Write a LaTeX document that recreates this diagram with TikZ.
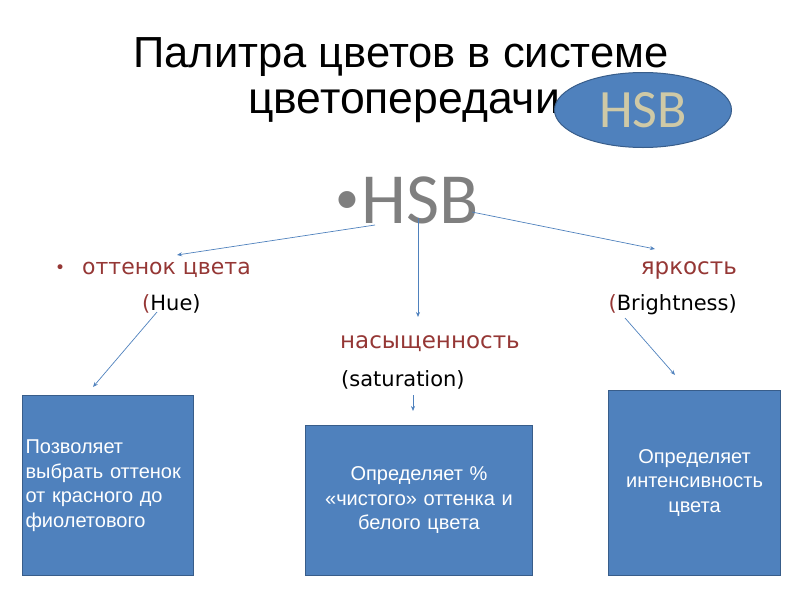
\documentclass[tikz,border=0pt]{standalone}
\usepackage{fontspec}
\setmainfont{Liberation Sans}
\newfontfamily\calfont{Carlito}
\newfontfamily\dvfont{DejaVu Sans}
\usetikzlibrary{arrows.meta,shapes.geometric}
\definecolor{boxblue}{HTML}{4F81BD}
\definecolor{boxline}{HTML}{385D8A}
\definecolor{termred}{HTML}{953735}
\definecolor{hsbgray}{HTML}{7F7F7F}
\definecolor{hsbtan}{HTML}{CFC9A6}
\tikzset{
  infobox/.style={draw=boxline, line width=1pt, fill=boxblue, text=white, inner sep=3pt, font=\fontsize{20}{24.5}\selectfont},
  term/.style={text=termred, font=\dvfont\fontsize{23}{26}\selectfont, inner sep=0pt},
  engl/.style={font=\dvfont\fontsize{21}{24}\selectfont, inner sep=0pt},
  link/.style={draw=boxblue, line width=0.7pt, -{Stealth[length=5pt,width=4pt]}}
}
\begin{document}
\begin{tikzpicture}[x=1pt,y=-1pt]
		\useasboundingbox (0,0) rectangle (800,600);
		% заголовок
		\node[anchor=base, inner sep=0pt, font=\fontsize{43.5}{50}\selectfont] (title1) at (401,67) {Палитра цветов в системе};
		\node[anchor=base west, inner sep=0pt, font=\fontsize{44.5}{50}\selectfont] (title2) at (248,113) {цветопередачи};
		\node[ellipse, draw=boxline, line width=1pt, fill=boxblue, minimum width=177, minimum height=75, text=hsbtan, font=\calfont\fontsize{54}{58}\selectfont] (oval) at (643,110) {HSB};
		
		\node[anchor=base east, inner sep=0pt, text=hsbgray, font=\calfont\fontsize{48}{54}\selectfont] (bull) at (360,213) {•};
		\node[anchor=base west, inner sep=0pt, text=hsbgray, font=\calfont\fontsize{72}{80}\selectfont] (hsb) at (361,223) {HSB};
		
		\node[anchor=base west, inner sep=0pt, font=\dvfont\fontsize{17}{18}\selectfont, text=termred] (dot) at (55,273) {•};
		\node[term, anchor=base west, font=\dvfont\fontsize{22}{26}\selectfont] (hue) at (82,274) {оттенок цвета};
		\node[engl, anchor=base west] (hueen) at (142,310) {\textcolor{termred}{(}Hue)};
		\node[term, anchor=base east] (bri) at (737,274) {яркость};
		\node[engl, anchor=base east] (brien) at (737,310) {\textcolor{termred}{(}Brightness)};
		\node[term, anchor=base west] (sat) at (340,348) {насыщенность};
		\node[engl, anchor=base west] (saten) at (341,386) {(saturation)};
		
		% описания
		\node[infobox, anchor=north west, minimum width=171, minimum height=180, text width=165, align=left] (huebox) at (22,395) {Позволяет\\выбрать оттенок\\от красного до\\фиолетового};
		\node[infobox, anchor=north west, minimum width=227, minimum height=150, text width=221, align=center] (satbox) at (305,425) {Определяет \%\\«чистого» оттенка и\\белого цвета};
		\node[infobox, anchor=north west, minimum width=172, minimum height=185, text width=166, align=center] (bribox) at (608,390) {Определяет\\интенсивность\\цвета};
		
		\coordinate (hsbL) at (375,225);
		\coordinate (hsbM) at (418,218);
		\coordinate (hsbR) at (472,212);
		\coordinate (hueT) at (177,255);
		\coordinate (satT) at (418,317);
		\coordinate (briT) at (655,249);
		\coordinate (hueB) at (157,312);
		\coordinate (hueX) at (93,387);
		\coordinate (briB) at (625,318);
		\coordinate (briX) at (675,375);
		\coordinate (satB) at (413,395);
		\coordinate (satX) at (413,411);
		
		\draw[link] (hsbL) -- (hueT);
		\draw[link] (hsbM) -- (satT);
		\draw[link] (hsbR) -- (briT);
		\draw[link] (hueB) -- (hueX);
		\draw[link] (briB) -- (briX);
		\draw[link] (satB) -- (satX);
	\end{tikzpicture}
\end{document}
